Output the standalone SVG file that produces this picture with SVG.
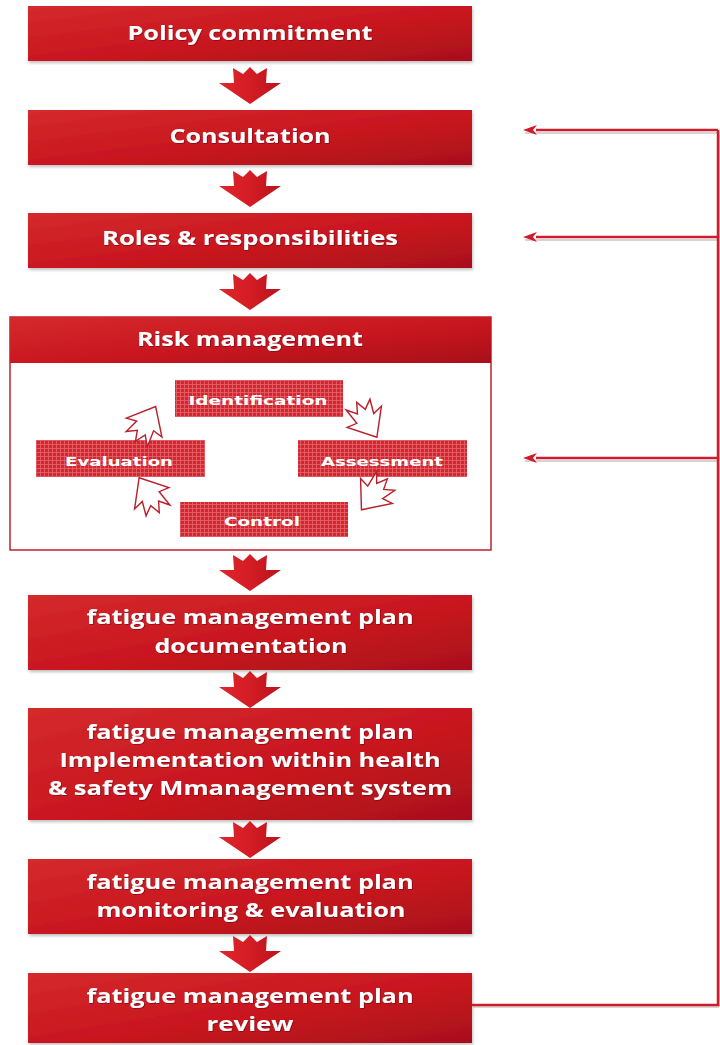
<svg xmlns="http://www.w3.org/2000/svg" width="720" height="1045" viewBox="0 0 720 1045">
<style>
.box{fill:url(#boxGrad);}
.inner{fill:url(#grid);}
.t{font-family:"Open Sans","Liberation Sans",sans-serif;font-weight:700;font-size:19px;fill:#fff;text-anchor:middle;}
.ts{font-family:"DejaVu Sans","Liberation Sans",sans-serif;font-weight:700;font-size:13px;fill:#fff;text-anchor:middle;}
.fb{fill:none;stroke:#d01c2a;stroke-width:2.5;}
.fbs{fill:none;stroke:#b8a8a8;stroke-width:2;opacity:0.5;}
.cyc{fill:#fff;stroke:#b8202c;stroke-width:1.1;stroke-linejoin:miter;}
</style>
<defs>
<linearGradient id="boxGrad" x1="0" y1="0" x2="1" y2="1">
<stop offset="0" stop-color="#d42a2c"/>
<stop offset="0.55" stop-color="#c8161f"/>
<stop offset="1" stop-color="#a8101a"/>
</linearGradient>
<pattern id="grid" width="4" height="4" patternUnits="userSpaceOnUse">
<rect width="4" height="4" fill="#d42630"/>
<path d="M0 0.5H4M0.5 0V4" stroke="#e4646a" stroke-width="0.8"/>
</pattern>
<linearGradient id="arrGrad" x1="0" y1="0" x2="1" y2="0">
<stop offset="0" stop-color="#e0262c"/>
<stop offset="0.5" stop-color="#d41c24"/>
<stop offset="1" stop-color="#b8141c"/>
</linearGradient>
<path id="down" d="M-17,0 L-7,6 L0,-1 L7,6 L17,0 L16,15 L31,15 L0,36 L-31,15 L-16,15 Z" fill="url(#arrGrad)"/>
<path id="cyc" d="M-9,-15 L-3,-8 L1,-16 L4,-8 L11,-13 L8,-2 L16,-4 L1,15 L-15,-3 L-7,-2 Z" class="cyc"/>
<marker id="ah" viewBox="0 0 14 10" refX="1" refY="5" markerWidth="14" markerHeight="10" markerUnits="userSpaceOnUse" orient="auto-start-reverse">
<path d="M14,5 L0,0 L4,5 L0,10 Z" fill="#d01c2a"/>
</marker>
<filter id="sh" x="-5%" y="-10%" width="110%" height="130%">
<feDropShadow dx="1" dy="2" stdDeviation="1.5" flood-color="#000" flood-opacity="0.25"/>
</filter>
<filter id="tsh" x="-5%" y="-20%" width="110%" height="140%">
<feDropShadow dx="0.8" dy="0.8" stdDeviation="0.6" flood-color="#5a0008" flood-opacity="0.6"/>
</filter>
</defs>

<g id="policy">
<rect class="box" x="28" y="6" width="444" height="55" filter="url(#sh)"/>
<text class="t" x="250" y="40" textLength="245" lengthAdjust="spacingAndGlyphs" filter="url(#tsh)">Policy commitment</text>
</g>
<g id="consultation">
<rect class="box" x="28" y="110" width="444" height="55" filter="url(#sh)"/>
<text class="t" x="250" y="143" textLength="161" lengthAdjust="spacingAndGlyphs" filter="url(#tsh)">Consultation</text>
</g>
<g id="roles">
<rect class="box" x="28" y="213" width="444" height="55" filter="url(#sh)"/>
<text class="t" x="250" y="245" textLength="296" lengthAdjust="spacingAndGlyphs" filter="url(#tsh)">Roles &amp; responsibilities</text>
</g>

<g id="risk">
<rect x="10" y="317" width="481" height="233" fill="#fff" stroke="#c0202a" stroke-width="1.5"/>
<rect class="box" x="10" y="317" width="481" height="46"/>
<text class="t" x="250" y="346" textLength="226" lengthAdjust="spacingAndGlyphs" filter="url(#tsh)">Risk management</text>
</g>
<g id="identification">
<rect class="inner" x="175" y="380" width="168" height="37"/>
<text class="ts" x="258" y="405" textLength="139" lengthAdjust="spacingAndGlyphs">Identification</text>
</g>
<g id="evaluation">
<rect class="inner" x="36" y="440" width="169" height="37"/>
<text class="ts" x="119" y="466" textLength="108" lengthAdjust="spacingAndGlyphs">Evaluation</text>
</g>
<g id="assessment">
<rect class="inner" x="298" y="440" width="169" height="37"/>
<text class="ts" x="382" y="466" textLength="122" lengthAdjust="spacingAndGlyphs">Assessment</text>
</g>
<g id="control">
<rect class="inner" x="180" y="502" width="168" height="35"/>
<text class="ts" x="262" y="526" textLength="76" lengthAdjust="spacingAndGlyphs">Control</text>
</g>

<g id="documentation">
<rect class="box" x="28" y="595" width="444" height="75" filter="url(#sh)"/>
<text class="t" x="250" y="624" textLength="327" lengthAdjust="spacingAndGlyphs" filter="url(#tsh)">fatigue management plan</text>
<text class="t" x="251" y="653" textLength="193" lengthAdjust="spacingAndGlyphs" filter="url(#tsh)">documentation</text>
</g>
<g id="implementation">
<rect class="box" x="28" y="708" width="444" height="112" filter="url(#sh)"/>
<text class="t" x="250" y="739" textLength="327" lengthAdjust="spacingAndGlyphs" filter="url(#tsh)">fatigue management plan</text>
<text class="t" x="250" y="767" textLength="381" lengthAdjust="spacingAndGlyphs" filter="url(#tsh)">Implementation within health</text>
<text class="t" x="250" y="795" textLength="404" lengthAdjust="spacingAndGlyphs" filter="url(#tsh)">&amp; safety Mmanagement system</text>
</g>
<g id="monitoring">
<rect class="box" x="28" y="859" width="444" height="75" filter="url(#sh)"/>
<text class="t" x="250" y="889" textLength="327" lengthAdjust="spacingAndGlyphs" filter="url(#tsh)">fatigue management plan</text>
<text class="t" x="251" y="917" textLength="309" lengthAdjust="spacingAndGlyphs" filter="url(#tsh)">monitoring &amp; evaluation</text>
</g>
<g id="review">
<rect class="box" x="28" y="973" width="444" height="70" filter="url(#sh)"/>
<text class="t" x="250" y="1003" textLength="327" lengthAdjust="spacingAndGlyphs" filter="url(#tsh)">fatigue management plan</text>
<text class="t" x="250" y="1031" textLength="87" lengthAdjust="spacingAndGlyphs" filter="url(#tsh)">review</text>
</g>

<g id="connectors">
<path class="fbs" d="M473,1007 H719 M719,132 V1007 M525,133 H719 M525,240 H719 M525,461 H719"/>
<path class="fb" d="M472,1005 H718 V130"/>
<path class="fb" d="M718,130 H536" marker-end="url(#ah)"/>
<path class="fb" d="M718,237 H536" marker-end="url(#ah)"/>
<path class="fb" d="M718,458 H536" marker-end="url(#ah)"/>
<use href="#down" x="250" y="68"/>
<use href="#down" x="250" y="171"/>
<use href="#down" x="250" y="274"/>
<use href="#down" x="250" y="555"/>
<use href="#down" x="250" y="672"/>
<use href="#down" x="250" y="822"/>
<use href="#down" x="250" y="936"/>
<use href="#cyc" transform="translate(366,421) rotate(-30) scale(1.3)"/>
<use href="#cyc" transform="translate(373,494) rotate(40) scale(1.3)"/>
<use href="#cyc" transform="translate(150,494) rotate(150) scale(1.3)"/>
<use href="#cyc" transform="translate(147,424) rotate(-150) scale(1.3)"/>
</g>
</svg>
